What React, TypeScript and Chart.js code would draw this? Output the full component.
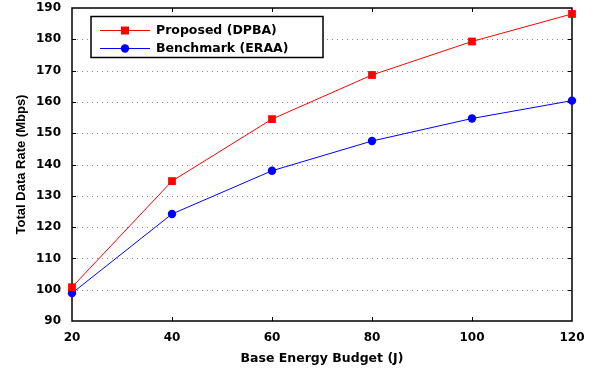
import React, { useEffect, useRef } from "react";
import { Chart, registerables } from "chart.js";

Chart.register(...registerables);

const budgets = [20, 40, 60, 80, 100, 120];
const proposed = [100.8, 134.7, 154.5, 168.6, 179.3, 188.1];
const benchmark = [98.9, 124.2, 138.0, 147.5, 154.7, 160.4];
const seriesNames = ["Proposed (DPBA)", "Benchmark (ERAA)"];
const xTitle = "Base Energy Budget (J)";
const yTitle = "Total Data Rate (Mbps)";

const FONT = "'DejaVu Sans', sans-serif";

const framePlugin = {
  id: "frame",
  beforeDatasetsDraw(chart: any) {
    const { ctx, chartArea: a, scales } = chart;
    const xs = scales.x;
    const ys = scales.y;
    ctx.save();
    // dotted horizontal grid
    ctx.strokeStyle = "#8a8a8a";
    ctx.lineWidth = 1;
    ctx.setLineDash([1, 4]);
    ys.ticks.forEach((t: any) => {
      if (t.value <= ys.min || t.value >= ys.max) return;
      const y = Math.round(ys.getPixelForValue(t.value)) + 0.5;
      ctx.beginPath();
      ctx.moveTo(a.left, y);
      ctx.lineTo(a.right, y);
      ctx.stroke();
    });
    ctx.setLineDash([]);
    // inward ticks
    ctx.strokeStyle = "#000";
    ctx.lineWidth = 1;
    const tl = 4;
    xs.ticks.forEach((t: any) => {
      if (t.value <= xs.min || t.value >= xs.max) return;
      const x = Math.round(xs.getPixelForValue(t.value)) + 0.5;
      ctx.beginPath();
      ctx.moveTo(x, a.bottom);
      ctx.lineTo(x, a.bottom - tl);
      ctx.moveTo(x, a.top);
      ctx.lineTo(x, a.top + tl);
      ctx.stroke();
    });
    ys.ticks.forEach((t: any) => {
      if (t.value <= ys.min || t.value >= ys.max) return;
      const y = Math.round(ys.getPixelForValue(t.value)) + 0.5;
      ctx.beginPath();
      ctx.moveTo(a.left, y);
      ctx.lineTo(a.left + tl, y);
      ctx.moveTo(a.right, y);
      ctx.lineTo(a.right - tl, y);
      ctx.stroke();
    });
    // frame
    ctx.lineWidth = 1.5;
    ctx.strokeRect(a.left, a.top, a.right - a.left, a.bottom - a.top);
    ctx.restore();
  },
  afterDatasetsDraw(chart: any) {
    const { ctx, chartArea: a } = chart;
    const bx = a.left + 19;
    const by = a.top + 8.5;
    const bw = 232;
    const bh = 41;
    ctx.save();
    ctx.fillStyle = "#fff";
    ctx.fillRect(bx, by, bw, bh);
    ctx.strokeStyle = "#000";
    ctx.lineWidth = 1.5;
    ctx.strokeRect(bx, by, bw, bh);
    chart.data.datasets.forEach((ds: any, i: number) => {
      const y = by + 14 + i * 18;
      ctx.strokeStyle = ds.borderColor;
      ctx.lineWidth = 1;
      ctx.beginPath();
      ctx.moveTo(bx + 9, y);
      ctx.lineTo(bx + 59, y);
      ctx.stroke();
      ctx.fillStyle = ds.backgroundColor;
      const cx = bx + 34;
      if (ds.pointStyle === "rect") {
        ctx.fillRect(cx - 4, y - 4, 8, 8);
      } else {
        ctx.beginPath();
        ctx.arc(cx, y, 4.2, 0, Math.PI * 2);
        ctx.fill();
      }
      ctx.fillStyle = "#000";
      ctx.font = "bold 12.5px " + FONT;
      ctx.textAlign = "left";
      ctx.textBaseline = "middle";
      ctx.fillText(ds.label, bx + 65, y + 0.5);
    });
    ctx.restore();
  },
};

export default function App() {
  const ref = useRef<HTMLCanvasElement | null>(null);
  useEffect(() => {
    if (!ref.current) return;
    const chart = new Chart(ref.current, {
      type: "line",
      data: {
        datasets: [
          {
            label: seriesNames[0],
            data: budgets.map((b, i) => ({ x: b, y: proposed[i] })),
            borderColor: "#ff0000",
            backgroundColor: "#ff0000",
            borderWidth: 1,
            pointStyle: "rect",
            pointRadius: 5.5,
            pointBorderWidth: 0,
            clip: false as any,
          },
          {
            label: seriesNames[1],
            data: budgets.map((b, i) => ({ x: b, y: benchmark[i] })),
            borderColor: "#0000ff",
            backgroundColor: "#0000ff",
            borderWidth: 1,
            pointStyle: "circle",
            pointRadius: 4.2,
            pointBorderWidth: 0,
            clip: false as any,
          },
        ],
      },
      options: {
        responsive: false,
        animation: false,
        layout: { padding: { top: 8, right: 27, left: 0, bottom: 0 } },
        plugins: { legend: { display: false }, tooltip: { enabled: false } },
        scales: {
          x: {
            type: "linear",
            min: 20,
            max: 120,
            afterFit: (s: any) => {
              s.height = 48;
              s.paddingLeft = 0;
              s.paddingRight = 0;
            },
            ticks: {
              stepSize: 20,
              color: "#000",
              padding: 10,
              maxRotation: 0,
              font: { family: FONT, weight: "bold", size: 12 },
            },
            grid: { display: false, drawTicks: false },
            border: { display: false },
            title: {
              display: true,
              text: xTitle,
              color: "#000",
              padding: { top: 0, bottom: 3 },
              font: { family: FONT, weight: "bold", size: 12.5 },
            },
          },
          y: {
            type: "linear",
            min: 90,
            max: 190,
            afterFit: (s: any) => {
              s.width = 72;
              s.paddingTop = 0;
              s.paddingBottom = 0;
            },
            ticks: {
              stepSize: 10,
              color: "#000",
              padding: 11,
              font: { family: FONT, weight: "bold", size: 12 },
            },
            grid: { display: false, drawTicks: false },
            border: { display: false },
            title: {
              display: true,
              text: yTitle,
              color: "#000",
              padding: { top: 14, bottom: 0 },
              font: { family: "'Liberation Sans', Arial, sans-serif", weight: "bold", size: 13 },
            },
          },
        },
      },
      plugins: [framePlugin],
    });
    return () => chart.destroy();
  }, []);
  return (
    <div style={{ position: "absolute", left: 0, top: 0, width: 599, height: 369, background: "#fff" }}>
      <canvas ref={ref} width={599} height={369} style={{ display: "block" }} />
    </div>
  );
}
